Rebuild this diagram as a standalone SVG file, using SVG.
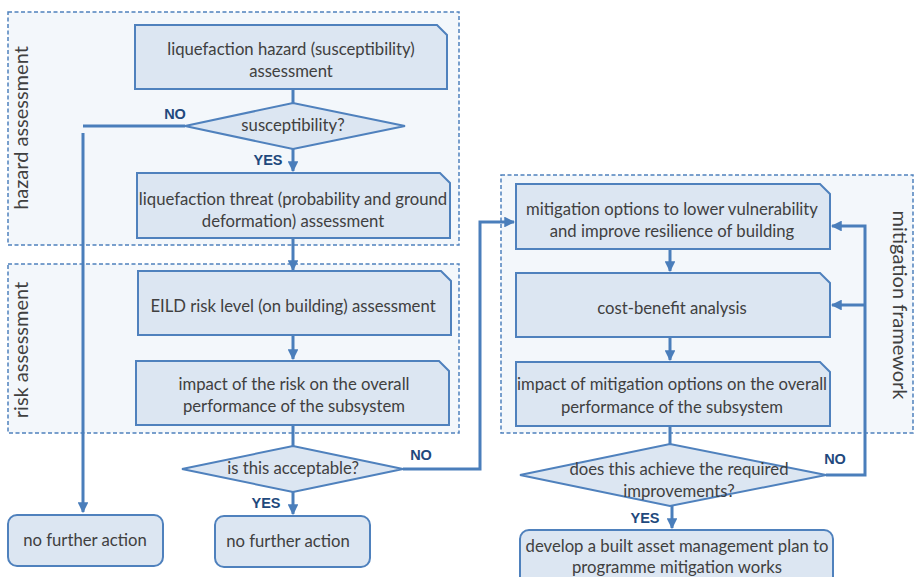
<svg xmlns="http://www.w3.org/2000/svg" width="915" height="577" viewBox="0 0 915 577">
<style>
.grp{fill:#f3f7fb;stroke:#4f81bd;stroke-width:1.5;stroke-dasharray:4 2.5}
.box{fill:#dce6f2;stroke:#4f81bd;stroke-width:2}
.t{font-family:Lato,"Liberation Sans",sans-serif;font-size:16.7px;fill:#404040;text-anchor:middle}
.side{font-family:Lato,"Liberation Sans",sans-serif;font-size:20px;fill:#404040;text-anchor:middle}
.lbl{font-family:"Liberation Sans",Arial,sans-serif;font-size:14.5px;font-weight:bold;fill:#1f497d;text-anchor:middle}
.ln{fill:none;stroke:#4a7ebb;stroke-width:3}
</style>
<defs>
<marker id="ah" viewBox="0 0 10 10" refX="9" refY="5" markerWidth="3.6" markerHeight="3.6" orient="auto" markerUnits="strokeWidth">
<path d="M0,0 L10,5 L0,10 Z" fill="#4a7ebb"/>
</marker>
</defs>
<g id="groups">
<rect class="grp" x="8" y="12" width="451" height="233"/>
<rect class="grp" x="8" y="264" width="451" height="169"/>
<rect class="grp" x="501" y="175" width="412" height="258"/>
<text class="side" transform="translate(28,128) rotate(-90)">hazard assessment</text>
<text class="side" transform="translate(28,350) rotate(-90)">risk assessment</text>
<text class="side" transform="translate(893,305) rotate(90)">mitigation framework</text>
</g>
<g id="connectors">
<path class="ln" d="M293,89 V103"/>
<path class="ln" d="M293,149 V171" marker-end="url(#ah)"/>
<path class="ln" d="M185,126 H83"/>
<path class="ln" d="M83,133 V512" marker-end="url(#ah)"/>
<path class="ln" d="M293,238 V270" marker-end="url(#ah)"/>
<path class="ln" d="M293,335 V359" marker-end="url(#ah)"/>
<path class="ln" d="M293,425 V446"/>
<path class="ln" d="M293,492 V514" marker-end="url(#ah)"/>
<path class="ln" d="M403,469 H480 V222 H514" marker-end="url(#ah)"/>
<path class="ln" d="M670,249 V271" marker-end="url(#ah)"/>
<path class="ln" d="M670,337 V360" marker-end="url(#ah)"/>
<path class="ln" d="M670,426 V444"/>
<path class="ln" d="M672,506 V528" marker-end="url(#ah)"/>
<path class="ln" d="M826,475 H865 V226 H832" marker-end="url(#ah)"/>
<path class="ln" d="M865,305 H832" marker-end="url(#ah)"/>
<text class="lbl" x="175" y="119">NO</text>
<text class="lbl" x="268" y="165">YES</text>
<text class="lbl" x="421" y="460">NO</text>
<text class="lbl" x="266" y="508">YES</text>
<text class="lbl" x="835" y="464">NO</text>
<text class="lbl" x="645" y="523">YES</text>
</g>
<g id="n1">
<path class="box" d="M135,25 H437 L447,35 V89 H135 Z"/>
<text class="t" x="291" y="55">liquefaction hazard (susceptibility)</text>
<text class="t" x="291" y="77">assessment</text>
</g>
<g id="d1">
<path class="box" d="M185,126 L293,103 L405,126 L293,149 Z"/>
<text class="t" x="293" y="131">susceptibility?</text>
</g>
<g id="n2">
<path class="box" d="M137,173 H440 L450,183 V238 H137 Z"/>
<text class="t" x="293" y="205">liquefaction threat (probability and ground</text>
<text class="t" x="293" y="227">deformation) assessment</text>
</g>
<g id="n3">
<path class="box" d="M138,271 H441 L451,281 V335 H138 Z"/>
<text class="t" x="293" y="312">EILD risk level (on building) assessment</text>
</g>
<g id="n4">
<path class="box" d="M136,361 H439 L449,371 V425 H136 Z"/>
<text class="t" x="294" y="390">impact of the risk on the overall</text>
<text class="t" x="294" y="412">performance of the subsystem</text>
</g>
<g id="d2">
<path class="box" d="M182,469 L293,446 L403,469 L293,492 Z"/>
<text class="t" x="293" y="474">is this acceptable?</text>
</g>
<g id="nfa1">
<rect class="box" x="8" y="515" width="155" height="51" rx="9"/>
<text class="t" x="85" y="546">no further action</text>
</g>
<g id="nfa2">
<rect class="box" x="215" y="516" width="155" height="51" rx="9"/>
<text class="t" x="288" y="547">no further action</text>
</g>
<g id="n5">
<path class="box" d="M516,184 H820 L830,194 V249 H516 Z"/>
<text class="t" x="672" y="215">mitigation options to lower vulnerability</text>
<text class="t" x="672" y="237">and improve resilience of building</text>
</g>
<g id="n6">
<path class="box" d="M516,273 H820 L830,283 V337 H516 Z"/>
<text class="t" x="672" y="314">cost-benefit analysis</text>
</g>
<g id="n7">
<path class="box" d="M516,362 H820 L830,372 V426 H516 Z"/>
<text class="t" x="672" y="390">impact of mitigation options on the overall</text>
<text class="t" x="672" y="413">performance of the subsystem</text>
</g>
<g id="d3">
<path class="box" d="M520,475 L670,444 L826,475 L670,506 Z"/>
<text class="t" x="679" y="475">does this achieve the required</text>
<text class="t" x="679" y="497">improvements?</text>
</g>
<g id="final">
<rect class="box" x="520" y="530" width="313" height="60" rx="9"/>
<text class="t" x="677" y="552">develop a built asset management plan to</text>
<text class="t" x="677" y="573">programme mitigation works</text>
</g>
</svg>
